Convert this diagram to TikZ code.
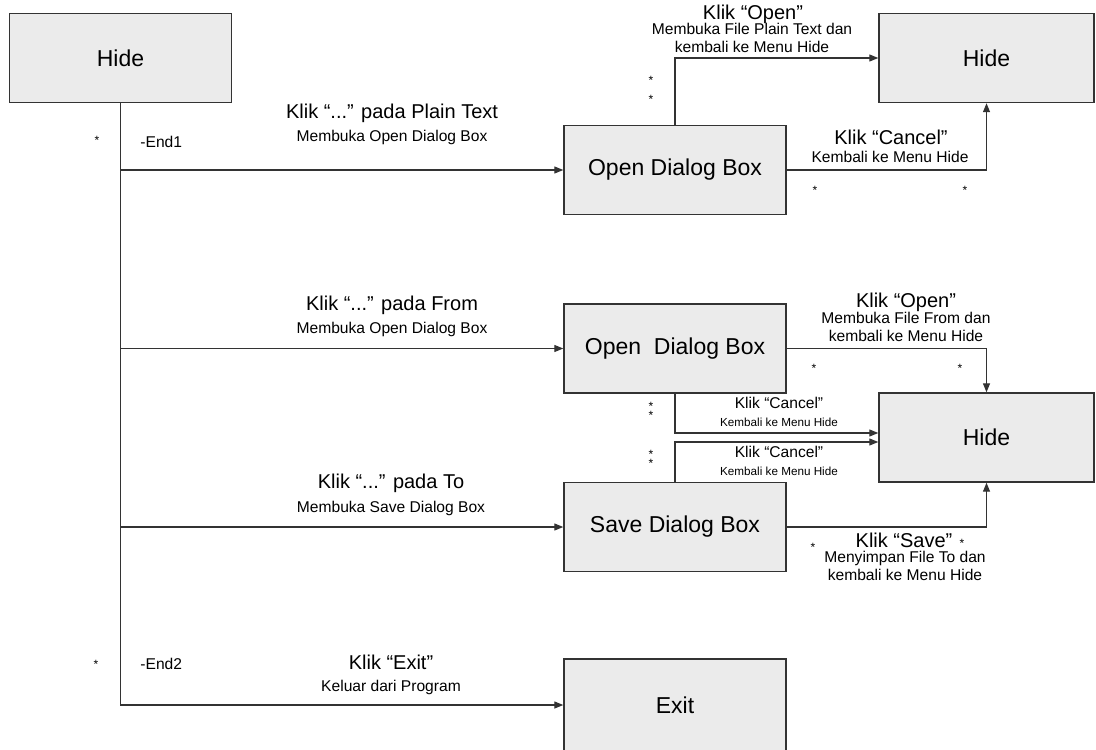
\documentclass[tikz,border=0pt]{standalone}
\usepackage{fontspec}
\setmainfont{Liberation Sans}
\usepackage{tikz}
\usetikzlibrary{arrows.meta,calc}
\usetikzlibrary{positioning}

\begin{document}
\begin{tikzpicture}[x=0.5pt,y=-0.5pt,>={Triangle[length=4.5pt,width=3.5pt]},
  dbox/.style={draw=black!80,fill=black!8,line width=0.7pt,minimum width=111pt,minimum height=44.5pt,inner sep=0pt,font=\fontsize{11.5}{13}\selectfont},
  ttl/.style={inner sep=0pt,font=\fontsize{10}{12}\selectfont},
  subtxt/.style={inner sep=0pt,align=center,font=\fontsize{7.8}{9}\selectfont},
  smallttl/.style={inner sep=0pt,font=\fontsize{7.8}{9}\selectfont},
  smallsub/.style={inner sep=0pt,font=\fontsize{5.85}{7}\selectfont},
  astx/.style={inner sep=0pt,font=\fontsize{6}{6}\selectfont},
  conn/.style={draw=black!80,line width=0.6pt}]
\useasboundingbox (0,0) rectangle (1096,749);
\node[dbox] (hideA) at (120.5,58) {Hide};
\node[dbox] (odbA) at (675,170) {Open Dialog Box};
\node[dbox,minimum width=107.5pt] (hideB) at (986.5,58) {Hide};
\node[dbox] (odbB) at (675,348.5) {Open\ \ Dialog Box};
\node[dbox,minimum width=107.5pt] (hideC) at (986.5,437.5) {Hide};
\node[dbox] (sdb) at (675,527) {Save Dialog Box};
\node[dbox,minimum height=46pt] (exit) at (675,705) {Exit};
\foreach \t in {odbA,odbB,sdb,exit} \draw[conn,->] (hideA.south) |- (\t.west);
\draw[conn,->] (odbA.north) |- (hideB.west);
\draw[conn,->] (odbA.east) -| (hideB.south);
\draw[conn,->] (odbB.east) -| (hideC.north);
\draw[conn,->] (odbB.south) |- ([yshift=2.25pt]hideC.west);
\draw[conn,->] (sdb.north) |- ([yshift=-2.25pt]hideC.west);
\draw[conn,->] (sdb.east) -| (hideC.south);
\node[ttl] (tPlain) at (392,113) {Klik “...” pada Plain Text};
\node[subtxt] (sPlain) at (392,137) {Membuka Open Dialog Box};
\node[ttl] (tFrom) at (392,305) {Klik “...” pada From};
\node[subtxt] (sFrom) at (392,329) {Membuka Open Dialog Box};
\node[ttl] (tTo) at (391,483) {Klik “...” pada To};
\node[subtxt] (sTo) at (391,508) {Membuka Save Dialog Box};
\node[ttl] (tExit) at (391,662) {Klik “Exit”};
\node[subtxt] (sExit) at (391,687) {Keluar dari Program};
\node[ttl] (tOpenA) at (753,14) {Klik “Open”};
\node[subtxt] (sOpenA) at (752,38) {Membuka File Plain Text dan\\kembali ke Menu Hide};
\node[ttl] (tCancelA) at (891,137) {Klik “Cancel”};
\node[subtxt] (sCancelA) at (890,157) {Kembali ke Menu Hide};
\node[ttl] (tOpenB) at (906,302) {Klik “Open”};
\node[subtxt] (sOpenB) at (906,327) {Membuka File From dan\\kembali ke Menu Hide};
\node[smallttl] (tCancelB) at (779,403) {Klik “Cancel”};
\node[smallsub] (sCancelB) at (779,422) {Kembali ke Menu Hide};
\node[smallttl] (tCancelC) at (779,452) {Klik “Cancel”};
\node[smallsub] (sCancelC) at (779,471) {Kembali ke Menu Hide};
\node[ttl] (tSave) at (904,540) {Klik “Save”};
\node[subtxt] (sSave) at (905,566) {Menyimpan File To dan\\kembali ke Menu Hide};
\node[subtxt,anchor=west] (endA) at (140,142) {-End1};
\node[subtxt,anchor=west] (endB) at (140,664) {-End2};
\foreach \x/\y [count=\i] in {97/140,96/664,651/80,651/99,815/190,965/190,814/368,960/368,651/406,651/415,651/454,651/463,813/547,962/543}
  \node[astx] (st\i) at (\x,\y) {*};
\end{tikzpicture}
\end{document}
